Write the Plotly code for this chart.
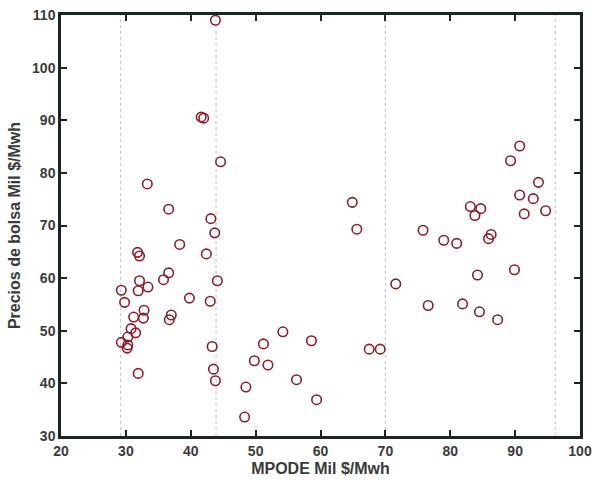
import plotly.graph_objects as go

mpode = [43.8, 41.6, 42.0, 44.6, 33.3, 36.6, 43.1, 43.7, 38.3, 31.8, 32.1, 42.4,
         36.6, 35.8, 44.1, 32.1, 33.4, 31.9, 29.3, 29.8, 39.8, 43.0, 32.8, 32.7,
         31.2, 37.0, 36.7, 30.8, 31.5, 30.3, 29.3, 30.3, 30.2, 43.3, 31.9, 43.5,
         43.8, 48.5, 48.3, 49.8, 51.2, 51.9, 54.2, 56.3, 58.6, 59.4, 67.5, 69.2,
         64.9, 65.6, 71.6, 75.8, 76.6, 79.0, 81.0, 81.9, 83.1, 83.8, 84.7, 84.2,
         84.5, 86.3, 85.9, 87.3, 89.3, 90.7, 89.9, 90.7, 91.4, 92.8, 93.6, 94.7]
precios = [109.0, 90.6, 90.4, 82.1, 77.9, 73.1, 71.3, 68.6, 66.4, 64.9, 64.2, 64.6,
           61.0, 59.7, 59.5, 59.5, 58.3, 57.6, 57.7, 55.4, 56.2, 55.6, 53.9, 52.4,
           52.6, 53.0, 52.1, 50.4, 49.6, 48.8, 47.8, 47.3, 46.7, 47.0, 41.9, 42.7,
           40.5, 39.3, 33.6, 44.3, 47.5, 43.5, 49.8, 40.7, 48.1, 36.9, 46.5, 46.5,
           74.4, 69.3, 58.9, 69.1, 54.8, 67.2, 66.6, 55.1, 73.6, 71.9, 73.2, 60.6,
           53.6, 68.3, 67.5, 52.1, 82.3, 85.1, 61.6, 75.8, 72.2, 75.1, 78.2, 72.8]
separadores = [29.2, 43.9, 70.0, 96.2]
x_ticks = [20, 30, 40, 50, 60, 70, 80, 90, 100]
y_ticks = [30, 40, 50, 60, 70, 80, 90, 100, 110]

fig = go.Figure()
fig.add_trace(go.Scatter(
    x=mpode, y=precios, mode="markers",
    marker=dict(symbol="circle-open", size=9.5, color="#8a1f2b",
                line=dict(width=1.6, color="#8a1f2b")),
    showlegend=False, hoverinfo="x+y"))

for s in separadores:
    fig.add_shape(type="line", x0=s, x1=s, y0=0, y1=1, xref="x", yref="paper",
                  line=dict(color="#c0c4c4", width=1, dash="dot"), layer="below")

axis_common = dict(
    showgrid=False, zeroline=False, showline=True, linecolor="#1c2620",
    linewidth=2.5, mirror="ticks", ticks="inside", ticklen=6, tickwidth=2,
    tickcolor="#1c2620", automargin=False,
    tickfont=dict(family="Liberation Sans", size=14, color="#3a3a3a", weight="bold"),
)

fig.update_layout(
    width=596, height=484,
    margin=dict(l=61, r=16, t=15, b=48),
    paper_bgcolor="white", plot_bgcolor="white",
    font=dict(family="Liberation Sans"),
    xaxis=dict(range=[20, 100], tickvals=x_ticks,
               title=dict(text="<b>MPODE Mil $/Mwh</b>", standoff=6,
                          font=dict(family="Liberation Sans", size=16, color="#3a3a3a")),
               **axis_common),
    yaxis=dict(range=[30, 110], tickvals=y_ticks,
               title=dict(text="<b>Precios de bolsa Mil $/Mwh</b>", standoff=8,
                          font=dict(family="Liberation Sans", size=16, color="#3a3a3a")),
               **axis_common),
)

fig.write_html("out.html")
